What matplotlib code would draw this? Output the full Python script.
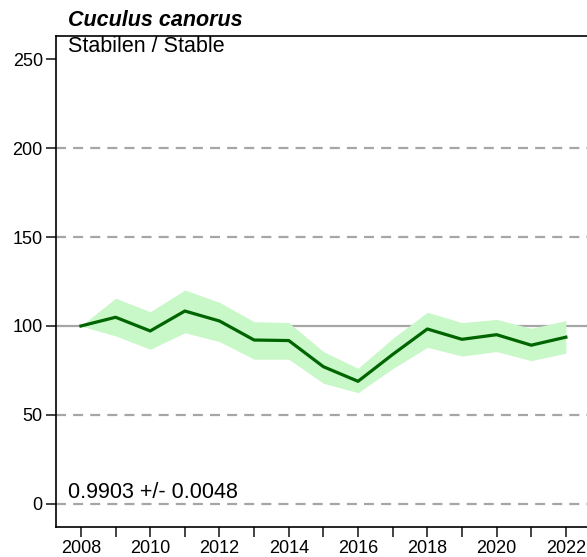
import matplotlib
matplotlib.use("Agg")
import matplotlib.pyplot as plt
import numpy as np

plt.rcParams['font.family'] = ['Liberation Sans', 'DejaVu Sans']

years = [2008, 2009, 2010, 2011, 2012, 2013, 2014, 2015, 2016, 2017, 2018, 2019, 2020, 2021, 2022]
index = [100, 104.9, 97.2, 108.4, 102.8, 92.1, 91.8, 77.1, 68.9, 84.0, 98.3, 92.5, 95.1, 89.2, 93.7]
upper = [100, 115.6, 108.0, 120.2, 113.3, 102.4, 101.9, 85.6, 76.2, 93.0, 107.7, 101.9, 103.7, 98.7, 103.0]
lower = [100, 94.4, 86.9, 96.2, 91.2, 81.3, 81.3, 67.8, 62.5, 76.0, 88.0, 83.1, 85.6, 80.5, 84.7]
dashed_levels = [0, 50, 150, 200]
species = "Cuculus canorus"
status = "Stabilen / Stable"
slope = "0.9903 +/- 0.0048"

fig = plt.figure(figsize=(5.87, 5.57), dpi=100)
ax = fig.add_axes([56 / 587, 1 - 527 / 557, 1 - 56 / 587, (527 - 36) / 557])

for lv in dashed_levels:
    ax.axhline(lv, color="#a6a6a6", lw=1.6, ls=(0, (4.5, 3.2)), zorder=1)
ax.axhline(100, color="#a6a6a6", lw=1.6, zorder=1)

ax.fill_between(years, lower, upper, color="#c8f7c8", lw=0, zorder=2)
ax.plot(years, index, color="#006400", lw=2.3, zorder=3)

ax.set_xlim(2007.28, 2022.61)
ax.set_ylim(-13, 263)
ax.set_xticks(years)
ax.set_xticklabels([str(y) if y % 2 == 0 else "" for y in years])
ax.set_yticks([0, 50, 100, 150, 200, 250])
ax.tick_params(axis="both", labelsize=13, length=7, width=1.2, color="#222222")
ax.tick_params(axis="x", pad=2.2)
ax.tick_params(axis="y", pad=2.5)

for side in ["left", "top", "bottom"]:
    ax.spines[side].set_linewidth(1.2)
ax.spines["right"].set_visible(False)

fig.text(68 / 587, 1 - 21 / 557, species, fontsize=15.5, fontweight="bold",
         fontstyle="italic", va="center", ha="left")
ax.text(68 / 587, 1 - 47 / 557, status, transform=fig.transFigure,
        fontsize=15.5, va="center", ha="left")
ax.text(68 / 587, 1 - 493 / 557, slope, transform=fig.transFigure,
        fontsize=15.5, va="center", ha="left")

fig.savefig("out.png", dpi=100)
